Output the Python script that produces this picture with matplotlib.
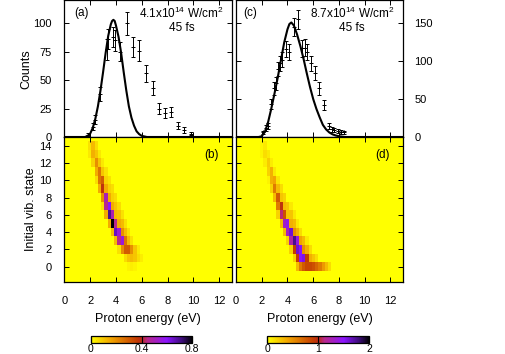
import numpy as np
import matplotlib
matplotlib.use("Agg")
import matplotlib.pyplot as plt
from matplotlib.colors import LinearSegmentedColormap

plt.rcParams["font.family"] = ["Liberation Sans", "DejaVu Sans"]
plt.rcParams["mathtext.fontset"] = "custom"
plt.rcParams["mathtext.rm"] = "Liberation Sans"

# (a) measured spectrum, 4.1e14 W/cm2
a_energy = [1.8, 2.2, 2.35, 2.8, 3.3, 3.38, 3.78, 3.9, 4.28, 4.85, 5.35, 5.8, 6.3, 6.85, 7.3, 7.8, 8.3, 8.8, 9.3, 9.85]
a_counts = [2, 9, 15, 38, 77, 86, 88, 85, 75, 100, 79, 76, 56, 43, 25, 21, 22, 10, 6, 3]
a_err = [1.5, 3, 4, 6, 9, 9, 9, 9, 8.5, 10, 9, 9, 7.5, 6.5, 5, 4.5, 4.5, 3, 2.5, 1.5]
# (a) calculated curve
a_fit_e = [0.0, 1.6, 1.8, 2.0, 2.2, 2.4, 2.6, 2.8, 3.0, 3.2, 3.4, 3.6, 3.7, 3.8, 3.9, 4.0, 4.2, 4.4,
           4.6, 4.8, 5.0, 5.2, 5.4, 5.6, 5.8, 6.0, 6.4, 13.0]
a_fit_c = [0, 0, 1, 3, 8, 16, 27, 41, 57, 74, 89, 99, 102, 103, 102, 98, 88, 74,
           57, 41, 27, 17, 10, 5, 2.5, 1, 0, 0]

# (c) measured spectrum, 8.7e14 W/cm2
c_energy = [2.1, 2.3, 2.5, 2.7, 2.95, 3.1, 3.3, 3.45, 3.6, 3.9, 4.15, 4.5, 4.85, 5.15, 5.35, 5.55,
            5.85, 6.15, 6.45, 6.85, 7.25, 7.45, 7.65, 7.9, 8.15, 8.4]
c_counts = [6, 12, 15, 43, 64, 71, 90, 97, 102, 116, 112, 145, 155, 117, 118, 112,
            97, 84, 64, 42, 14, 10, 9, 8, 7, 6]
c_err = [2.5, 3.5, 4, 6.5, 8, 8.5, 9.5, 10, 10, 11, 10.5, 12, 12.5, 11, 11, 10.5,
         10, 9, 8, 6.5, 4, 3, 3, 3, 2.5, 2.5]
c_fit_e = [0.0, 1.75, 2.0, 2.25, 2.5, 2.75, 3.0, 3.25, 3.5, 3.75, 4.0, 4.15, 4.3, 4.5, 4.75, 5.0,
           5.25, 5.5, 5.75, 6.0, 6.25, 6.5, 6.75, 7.0, 7.25, 7.5, 7.75, 8.0, 8.5, 13.0]
c_fit_c = [0, 0, 1, 7, 20, 38, 58, 79, 102, 125, 142, 149, 151, 147, 135, 120,
           103, 84, 66, 50, 37, 26, 16, 10, 6, 3.5, 2, 1, 0, 0]

# (b) and (d): yield per initial vibrational state, {state: [(energy, value), ...]}
b_rows = {
    14: [(2.0, 0.05), (2.25, 0.12), (2.5, 0.06)],
    13: [(2.0, 0.04), (2.25, 0.14), (2.5, 0.1), (2.75, 0.04)],
    12: [(2.25, 0.08), (2.5, 0.2), (2.75, 0.1), (3.0, 0.04)],
    11: [(2.5, 0.15), (2.75, 0.25), (3.0, 0.1), (3.25, 0.05)],
    10: [(2.5, 0.06), (2.75, 0.25), (3.0, 0.3), (3.25, 0.08), (3.5, 0.05)],
    9: [(2.75, 0.15), (3.0, 0.38), (3.25, 0.15), (3.5, 0.08), (3.75, 0.06)],
    8: [(3.0, 0.2), (3.25, 0.5), (3.5, 0.15), (3.75, 0.08), (4.0, 0.06)],
    7: [(3.0, 0.05), (3.25, 0.45), (3.5, 0.6), (3.75, 0.15), (4.0, 0.1), (4.25, 0.06)],
    6: [(3.25, 0.15), (3.5, 0.7), (3.75, 0.5), (4.0, 0.12), (4.25, 0.1), (4.5, 0.05)],
    5: [(3.5, 0.15), (3.75, 0.8), (4.0, 0.45), (4.25, 0.15), (4.5, 0.12), (4.75, 0.05)],
    4: [(3.75, 0.12), (4.0, 0.65), (4.25, 0.55), (4.5, 0.2), (4.75, 0.12), (5.0, 0.05)],
    3: [(4.0, 0.12), (4.25, 0.45), (4.5, 0.55), (4.75, 0.25), (5.0, 0.12), (5.25, 0.05)],
    2: [(4.25, 0.05), (4.5, 0.2), (4.75, 0.3), (5.0, 0.3), (5.25, 0.2), (5.5, 0.1), (5.75, 0.04)],
    1: [(4.75, 0.06), (5.0, 0.1), (5.25, 0.12), (5.5, 0.1), (5.75, 0.06), (6.0, 0.03)],
    0: [(5.0, 0.02), (5.25, 0.03), (5.5, 0.02)],
}
d_rows = {
    14: [(2.0, 0.04), (2.25, 0.1)],
    13: [(2.0, 0.05), (2.25, 0.15), (2.5, 0.1)],
    12: [(2.25, 0.08), (2.5, 0.22), (2.75, 0.08)],
    11: [(2.5, 0.2), (2.75, 0.35), (3.0, 0.1)],
    10: [(2.5, 0.05), (2.75, 0.35), (3.0, 0.4), (3.25, 0.12)],
    9: [(2.75, 0.2), (3.0, 0.6), (3.25, 0.3), (3.5, 0.15)],
    8: [(3.0, 0.3), (3.25, 0.75), (3.5, 0.25), (3.75, 0.2)],
    7: [(3.25, 0.6), (3.5, 0.95), (3.75, 0.3), (4.0, 0.25), (4.25, 0.1)],
    6: [(3.25, 0.2), (3.5, 1.1), (3.75, 0.8), (4.0, 0.25), (4.25, 0.25), (4.5, 0.1)],
    5: [(3.5, 0.3), (3.75, 1.3), (4.0, 1.45), (4.25, 0.35), (4.5, 0.3), (4.75, 0.1)],
    4: [(3.75, 0.3), (4.0, 1.3), (4.25, 1.6), (4.5, 0.5), (4.75, 0.35), (5.0, 0.15)],
    3: [(4.0, 0.2), (4.25, 1.2), (4.5, 1.75), (4.75, 1.4), (5.0, 0.4), (5.25, 0.3), (5.5, 0.1)],
    2: [(4.25, 0.2), (4.5, 0.9), (4.75, 1.6), (5.0, 1.5), (5.25, 0.5), (5.5, 0.35), (5.75, 0.15)],
    1: [(4.5, 0.2), (4.75, 0.9), (5.0, 1.5), (5.25, 1.55), (5.5, 0.9), (5.75, 0.35), (6.0, 0.25), (6.25, 0.15)],
    0: [(4.75, 0.3), (5.0, 0.6), (5.25, 0.75), (5.5, 0.85), (5.75, 0.85), (6.0, 0.8), (6.25, 0.7),
        (6.5, 0.6), (6.75, 0.45), (7.0, 0.3), (7.25, 0.15)],
}

E_STEP = 0.25
N_E = 53
N_V = 15

cmap = LinearSegmentedColormap.from_list("yield", [
    (0.0, "#ffff00"), (0.2, "#f2a400"), (0.45, "#c43c02"), (0.5, "#b82a18"),
    (0.56, "#b8288c"), (0.75, "#8c14ff"), (0.9, "#3c0c78"), (1.0, "#000000")])


def build_grid(rows):
    grid = np.zeros((N_V, N_E))
    for v, pairs in rows.items():
        for e, val in pairs:
            grid[v, int(round(e / E_STEP))] = val
    return grid


W, H = 506, 354
fig = plt.figure(figsize=(W / 100, H / 100), dpi=100)


def px_axes(x0, x1, y0, y1):
    return fig.add_axes([x0 / W, 1 - y1 / H, (x1 - x0) / W, (y1 - y0) / H])


def style(ax):
    ax.tick_params(direction="in", top=True, right=True, length=3.5, width=0.7,
                   labelsize=8)
    ax.tick_params(axis="y", pad=9)
    ax.tick_params(axis="x", pad=10)
    for s in ax.spines.values():
        s.set_linewidth(0.9)


ax_a = px_axes(64.4, 232, 0.5, 137)
ax_c = px_axes(236, 403.3, 0.5, 137)
ax_b = px_axes(64.4, 232, 137, 282.3)
ax_d = px_axes(236, 403.3, 137, 282.3)

# top spectra
for ax, e, c, err, fe, fc, ymax, yt in [
        (ax_a, a_energy, a_counts, a_err, a_fit_e, a_fit_c, 120, [0, 25, 50, 75, 100]),
        (ax_c, c_energy, c_counts, c_err, c_fit_e, c_fit_c, 180, [0, 50, 100, 150])]:
    ax.plot(fe, fc, color="k", lw=1.5)
    ax.errorbar(e, c, yerr=err, fmt="+", ms=3, mew=0.7, color="k", elinewidth=0.7,
                capsize=1.6, capthick=0.7)
    ax.set_xlim(0, 13)
    ax.set_ylim(0, ymax)
    ax.set_yticks(yt)
    ax.set_xticks(range(0, 13, 2))
    ax.set_xticklabels([])
    style(ax)

ax_a.set_ylabel("Counts", fontsize=9, labelpad=1)
ax_c.yaxis.tick_right()
ax_c.tick_params(left=True, labelleft=False, labelright=True, pad=8)

ax_a.text(0.75, 109, "(a)", fontsize=8.5, va="center", ha="left")
ax_a.text(9.07, 109, "4.1x10$^{14}$ W/cm$^2$", fontsize=8.5, va="center", ha="center")
ax_a.text(9.07, 96, "45 fs", fontsize=8.5, va="center", ha="center")
ax_c.text(0.6, 163, "(c)", fontsize=8.5, va="center", ha="left")
ax_c.text(9.0, 163, "8.7x10$^{14}$ W/cm$^2$", fontsize=8.5, va="center", ha="center")
ax_c.text(9.0, 144, "45 fs", fontsize=8.5, va="center", ha="center")

# bottom maps
images = []
for ax, rows, vmax, tag in [(ax_b, b_rows, 0.8, "(b)"), (ax_d, d_rows, 2.0, "(d)")]:
    grid = build_grid(rows)
    ax.set_facecolor(cmap(0.0))
    im = ax.imshow(grid, origin="lower", cmap=cmap, vmin=0, vmax=vmax, aspect="auto",
                   interpolation="nearest",
                   extent=(-E_STEP / 2, (N_E - 0.5) * E_STEP, -0.5, N_V - 0.5))
    images.append(im)
    ax.set_xlim(0, 13)
    ax.set_ylim(-1.8, 15)
    ax.set_xticks(range(0, 13, 2))
    ax.set_yticks(range(0, 15, 2))
    style(ax)
    ax.set_xlabel("Proton energy (eV)", fontsize=9, labelpad=5)
    ax.text(11.4, 12.9, tag, fontsize=8.5, va="center", ha="center")

ax_b.set_ylabel("Initial vib. state", fontsize=9, labelpad=2)
ax_d.set_yticklabels([])

# colour bars
for x0, x1, im, ticks in [(90.7, 192.3, images[0], [0, 0.4, 0.8]),
                          (267.5, 369.3, images[1], [0, 1, 2])]:
    cax = px_axes(x0, x1, 336, 343)
    cb = fig.colorbar(im, cax=cax, orientation="horizontal", ticks=ticks)
    cb.outline.set_linewidth(0.9)
    cax.tick_params(direction="in", length=5, width=0.8, labelsize=7.5, pad=1)
    cax.set_xticklabels([str(t) for t in ticks])

fig.savefig("out.png", dpi=100)
